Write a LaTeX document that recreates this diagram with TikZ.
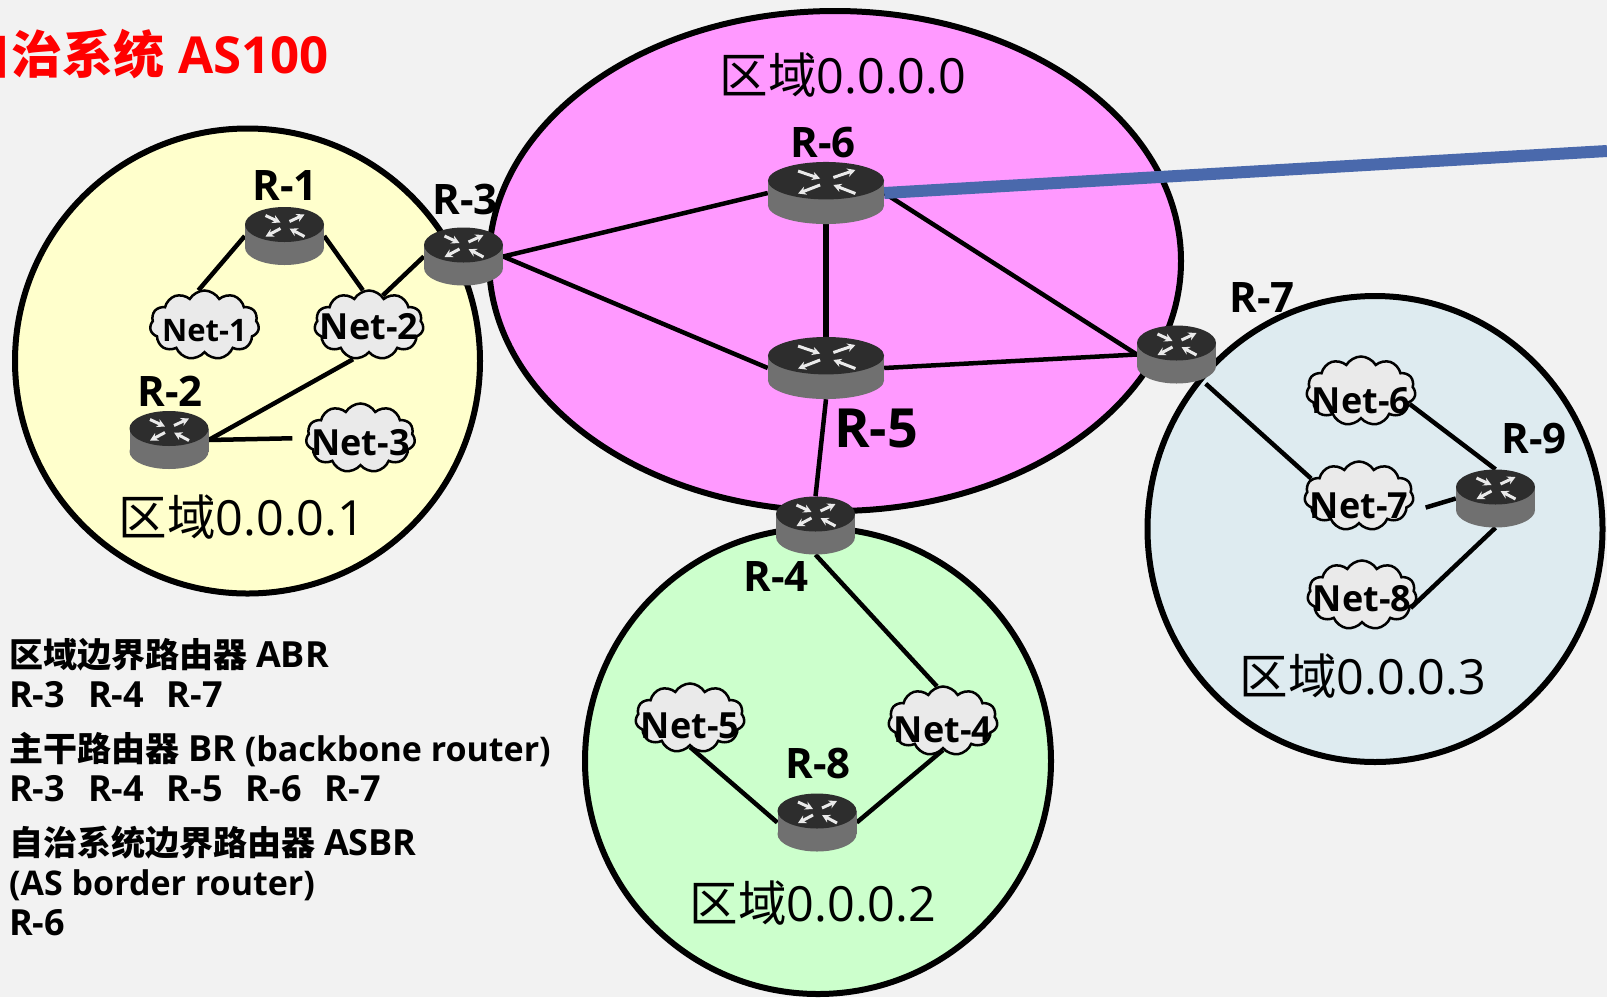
\documentclass[tikz,border=0pt]{standalone}
\usepackage{fontspec}
\setmainfont{Open Sans}
\newfontfamily\cjk{Noto Sans CJK SC}
\usetikzlibrary{shapes.symbols,arrows.meta}
\definecolor{pagebg}{HTML}{F2F2F2}
\definecolor{areaone}{HTML}{FFFFCC}
\definecolor{areazero}{HTML}{FF99FF}
\definecolor{areatwo}{HTML}{CCFFCC}
\definecolor{areathree}{HTML}{DEEBF0}
\definecolor{asbrlink}{HTML}{4A69AC}
\definecolor{routertop}{HTML}{2D2D2D}
\definecolor{routerside}{HTML}{707070}
\definecolor{netfill}{HTML}{EAEAEA}
\newcommand{\fsz}[2]{\fontsize{#1}{#2}\selectfont}
\newcommand{\nettext}[2]{\makebox[0pt]{\raisebox{#1}[0pt][0pt]{#2}}}
\newcommand{\notecjk}[1]{{\cjk #1}}
\newcommand{\notecaps}[1]{{\fsz{36}{40}#1}}
\newcommand{\routergap}{\hspace{23pt}}

\begin{document}
\begin{tikzpicture}[
        x=1pt,y=-1pt
        ,area/.style={draw=black,line width=6pt}
        ,link/.style={draw=black,line width=4.5pt}
        ,routerbox/.style={inner sep=0pt,minimum width=79pt,minimum height=58pt}
        ,bigrouterbox/.style={inner sep=0pt,minimum width=116pt,minimum height=62pt}
        ,routertext/.style={inner sep=0pt,font=\fsz{42}{42}\bfseries}
        ,areatext/.style={inner sep=0pt,font=\fsz{48.5}{48.5}}
        ,notetext/.style={inner sep=0pt,anchor=north west,align=left,font=\fsz{34}{40}\bfseries}
        ,netcloud/.style={cloud,cloud puffs=11,cloud puff arc=120,aspect=1.6,inner sep=0pt
            ,minimum width=109pt,minimum height=69pt,draw=black,line width=2.5pt,fill=netfill
            ,font=\fsz{36}{36}\bfseries}
        ,router/.pic={
            \fill[routerside] (0,11.5) ellipse [x radius=39.5pt,y radius=17.5pt];
            \fill[routerside] (-39.5,-11.5) rectangle (39.5,11.5);
            \fill[routertop] (0,-11.5) ellipse [x radius=39.5pt,y radius=17.5pt];
            \draw[routerarrow] (-19,-20.5) -- (-4,-13.5);
            \draw[routerarrow] (5,-14.5) -- (20,-21.5);
            \draw[routerarrow] (-4,-7.5) -- (-19,0.5);
            \draw[routerarrow] (20,0.5) -- (5,-7.5);
        }
        ,routerarrow/.style={draw=netfill,line width=3pt,-{Stealth[length=8pt,width=8.5pt]}}
    ]
    \useasboundingbox (0,0) rectangle (1607,997);
    \clip (0,0) rectangle (1607,997);
    \fill[pagebg] (0,0) rectangle (1607,997);
    % Areas
    \draw[area,fill=areaone] (247.5,361) circle (232.5pt);
    \draw[area,fill=areatwo] (818,761) circle (233pt);
    \draw[area,fill=areathree] (1375,529) ellipse [x radius=227.5pt,y radius=233pt];
    \draw[area,fill=areazero] (835,261) ellipse [x radius=346pt,y radius=250pt];
    % Routers
    \node[routerbox] (R1) at (284.5,236) {};
    \node[routerbox] (R2) at (169,440) {};
    \node[routerbox] (R3) at (463.5,256.5) {};
    \node[routerbox] (R4) at (815.5,525.5) {};
    \node[bigrouterbox] (R5) at (826,368) {};
    \node[bigrouterbox] (R6) at (826,193) {};
    \node[routerbox] (R7) at (1176.5,354.5) {};
    \node[routerbox] (R8) at (817,822.5) {};
    \node[routerbox] (R9) at (1495.5,498.5) {};
    % Networks
    \node[netcloud,font=\fsz{31}{31}\bfseries] (Net1) at (204.5,325) {\nettext{-16pt}{Net-1}};
    \node[netcloud] (Net2) at (369,325) {\nettext{-14pt}{Net-2}};
    \node[netcloud] (Net3) at (360.5,438) {\nettext{-17pt}{Net-3}};
    \node[netcloud] (Net4) at (943,721) {\nettext{-21pt}{Net-4}};
    \node[netcloud] (Net5) at (690,718) {\nettext{-20pt}{Net-5}};
    \node[netcloud] (Net6) at (1361,391) {\nettext{-22pt}{Net-6}};
    \node[netcloud] (Net7) at (1359,496) {\nettext{-22pt}{Net-7}};
    \node[netcloud] (Net8) at (1362,595) {\nettext{-16pt}{Net-8}};
    % Links
    \coordinate (asout) at (1607,151);
    \draw[link] (R1.west) -- (Net1.100);
    \draw[link] (R1.east) -- (Net2.100);
    \draw[link] (R3.west) -- (Net2.65);
    \draw[link] (R2.east) -- (Net2.-115);
    \draw[link,shorten >=13pt] (R2.east) -- (Net3.west);
    \draw[link] (R3.east) -- (R6.west);
    \draw[link] (R3.east) -- (R5.west);
    \draw[link,line width=5.5pt] (R6.south) -- (R5.north);
    \draw[link] (R6.east) -- (R7.west);
    \draw[link] (R5.east) -- (R7.west);
    \draw[link] (R5.south) -- (R4.north);
    \draw[link] (R4.south) -- (Net4.100);
    \draw[link] (Net5.south) -- (R8.west);
    \draw[link] (Net4.south) -- (R8.east);
    \draw[link] (R7.-45) -- (Net7.160);
    \draw[link] (Net6.-15) -- (R9.north);
    \draw[link,shorten <=20pt] (Net7.-20) -- (R9.west);
    \draw[link] (Net8.-15) -- (R9.south);
    \draw[draw=asbrlink,line width=12pt] (R6.east) -- (asout);
    % Router bodies
    \pic at (R1) {router};
    \pic at (R2) {router};
    \pic at (R3) {router};
    \pic at (R4) {router};
    \pic[xscale=1.47,yscale=1.07] at (R5) {router};
    \pic[xscale=1.47,yscale=1.07] at (R6) {router};
    \pic at (R7) {router};
    \pic at (R8) {router};
    \pic at (R9) {router};
    % Labels
    \node[routertext] (labR1) at (285,186) {R-1};
    \node[routertext] (labR2) at (170,391) {R-2};
    \node[routertext] (labR3) at (465,199) {R-3};
    \node[routertext] (labR4) at (776,576) {R-4};
    \node[routertext,font=\fsz{54}{54}\bfseries] (labR5) at (876,428) {R-5};
    \node[routertext] (labR6) at (823,143) {R-6};
    \node[routertext] (labR7) at (1262,298) {R-7};
    \node[routertext] (labR8) at (818,764) {R-8};
    \node[routertext] (labR9) at (1534,439) {R-9};
    \node[areatext] (labzero) at (843,75) {{\cjk 区域}0.0.0.0};
    \node[areatext] (labone) at (242,517) {{\cjk 区域}0.0.0.1};
    \node[areatext] (labtwo) at (813,903) {{\cjk 区域}0.0.0.2};
    \node[areatext] (labthree) at (1363,676) {{\cjk 区域}0.0.0.3};
    \node[inner sep=0pt,anchor=east,text=red,font=\fsz{51}{51}\bfseries] (title) at (329,54) {{\cjk 自治系统} AS100};
    \node[notetext] (abrnote) at (9,638) {\notecjk{区域边界路由器} \notecaps{ABR}\\\notecaps{R-3\routergap R-4\routergap R-7}};
    \node[notetext] (brnote) at (9,732) {\notecjk{主干路由器} \notecaps{BR} (backbone router)\\\notecaps{R-3\routergap R-4\routergap R-5\routergap R-6\routergap R-7}};
    \node[notetext] (asbrnote) at (9,826) {\notecjk{自治系统边界路由器} \notecaps{ASBR}\\(AS border router)\\\notecaps{R-6}};
\end{tikzpicture}
\end{document}
